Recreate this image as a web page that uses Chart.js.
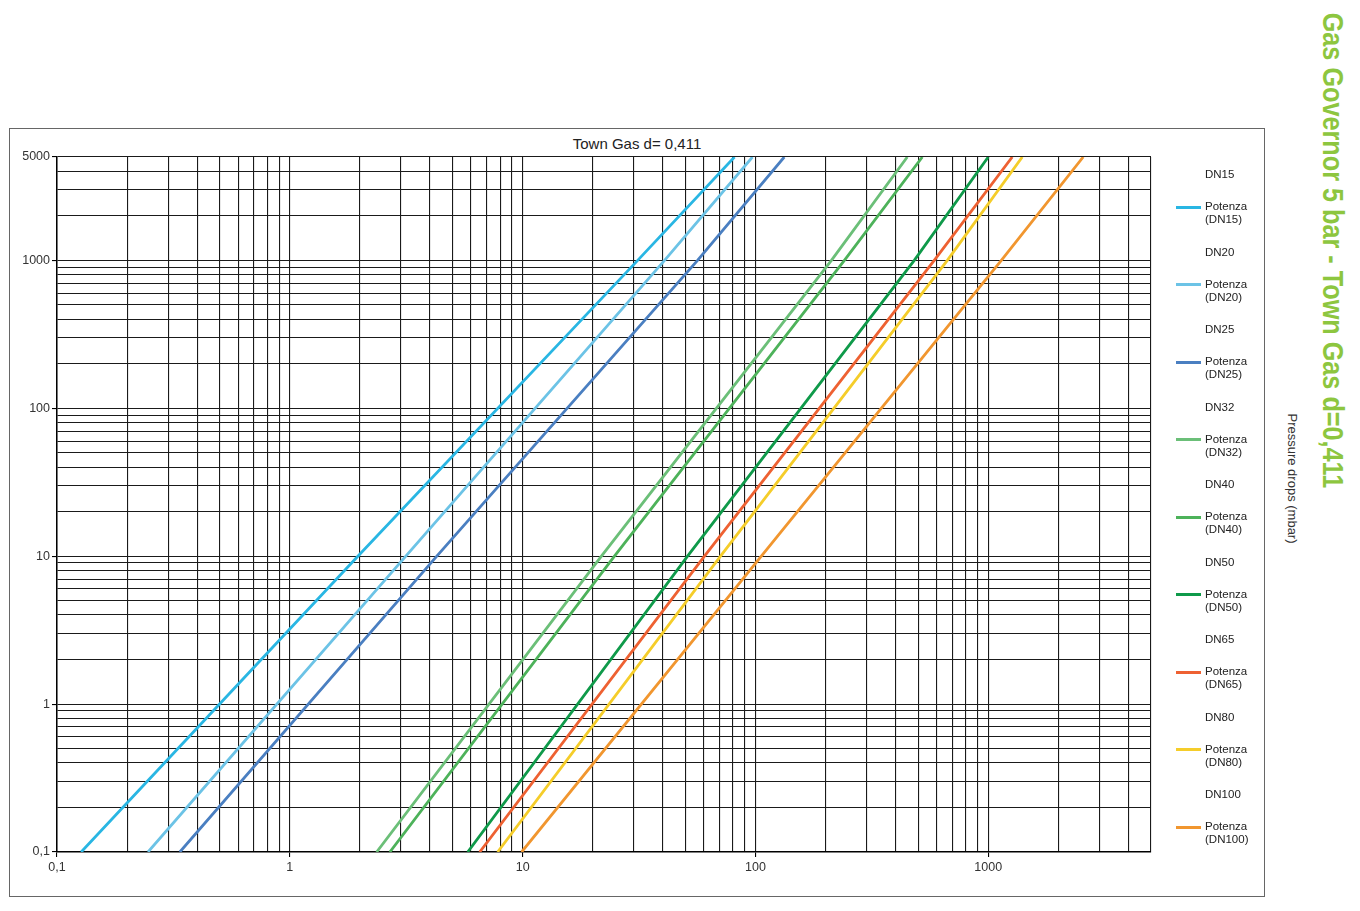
<!DOCTYPE html>
<html>
<head>
<meta charset="utf-8">
<script src="https://cdn.jsdelivr.net/npm/chart.js@4.4.1/dist/chart.umd.min.js"></script>
<style>
  html, body { margin: 0; padding: 0; background: #fff; }
  body { width: 1360px; height: 911px; position: relative; overflow: hidden; font-family: "Liberation Sans", Arial, sans-serif; }
  #frame { position: absolute; left: 9px; top: 128px; width: 1256px; height: 769px; box-sizing: border-box; border: 1.5px solid #666; }
  #chart { position: absolute; left: 9px; top: 128px; }
  .title { position: absolute; left: 9px; top: 135px; width: 1256px; text-align: center; font-size: 15px; color: #222; }
  .leg { position: absolute; font-size: 11.5px; line-height: 13px; color: #222; white-space: nowrap; }
  .sw { position: absolute; width: 25px; height: 3px; }
  .rot { position: absolute; white-space: nowrap; transform-origin: 50% 50%; }
  #side { font-weight: bold; font-size: 29px; color: #8dc63f; }
  #ytitle { font-size: 13px; color: #333; }
</style>
</head>
<body>
<div id="frame"></div>
<div class="title">Town Gas d= 0,411</div>
<canvas id="chart" width="1256" height="769"></canvas>
<div id="legend"></div>
<div id="side" class="rot">Gas Governor 5 bar - Town Gas d=0,411</div>
<div id="ytitle" class="rot">Pressure drops (mbar)</div>

<script>
const yLevels = [0.1, 10, 1000, 5000];

// flow values (x) of each curve at those levels
const dn15 = [0.127, 1.96, 31.2, 81.3];
const dn20 = [0.246, 3.15, 40.7, 97.1];
const dn25 = [0.337, 4.28, 56.4, 133];
const dn32 = [2.36, 21.8, 212, 449];
const dn40 = [2.69, 24.8, 241, 521];
const dn50 = [5.81, 51.1, 481, 1000];
const dn65 = [6.54, 60.4, 586, 1268];
const dn80 = [7.81, 70.8, 667, 1400];
const dn100 = [9.9, 106, 1138, 2558];

const seriesNames = ["DN15", "DN20", "DN25", "DN32", "DN40", "DN50", "DN65", "DN80", "DN100"];
const seriesValues = [dn15, dn20, dn25, dn32, dn40, dn50, dn65, dn80, dn100];
const seriesColors = ["#29b6e3", "#6cc3e6", "#4a7fc1", "#6bbf78", "#4db25a", "#0f9a4a", "#ee6132", "#f5cd2a", "#f1962f"];

// axis tick labels
const xTickValues = [0.1, 1, 10, 100, 1000];
const xTickText = ["0,1", "1", "10", "100", "1000"];
const yTickValues = [0.1, 1, 10, 100, 1000, 5000];
const yTickText = ["0,1", "1", "10", "100", "1000", "5000"];

const axisMin = 0.1;
const axisMax = 5000;

// every 1..9 x 10^k step between min and max, for the log grid
function logGrid(min, max) {
  const out = [];
  for (let k = -1; k <= 4; k++) {
    for (let m = 1; m <= 9; m++) {
      const v = parseFloat((m * Math.pow(10, k)).toPrecision(6));
      if (v >= min - 1e-9 && v <= max + 1e-9) out.push(v);
    }
  }
  return out;
}

function findLabel(values, texts, v) {
  for (let i = 0; i < values.length; i++) {
    if (Math.abs(values[i] - v) < values[i] * 1e-6) return texts[i];
  }
  return null;
}

const datasets = seriesNames.map((name, i) => ({
  label: "Potenza (" + name + ")",
  data: yLevels.map((y, j) => ({ x: seriesValues[i][j], y: y })),
  borderColor: seriesColors[i],
  backgroundColor: seriesColors[i],
  borderWidth: 2.8,
  showLine: true,
  pointRadius: 0,
  tension: 0
}));

function axis(labelValues, labelTexts, isX) {
  return {
    type: "logarithmic",
    min: axisMin,
    max: axisMax,
    afterBuildTicks: scale => {
      scale.ticks = logGrid(axisMin, axisMax).map(v => ({ value: v }));
    },
    afterFit: scale => {
      if (isX) scale.height = 45; else scale.width = 48;
    },
    border: { color: "#000", width: 1.5 },
    grid: {
      color: "#1a1a1a",
      lineWidth: 1.1,
      tickLength: 5,
      tickColor: ctx => (findLabel(labelValues, labelTexts, ctx.tick.value) !== null ? "#000" : "rgba(0,0,0,0)")
    },
    ticks: {
      autoSkip: false,
      maxRotation: 0,
      minRotation: 0,
      padding: isX ? 3 : 2,
      color: "#333",
      font: { family: "Liberation Sans", size: 12.5 },
      callback: v => {
        const t = findLabel(labelValues, labelTexts, v);
        return t === null ? "" : t;
      }
    }
  };
}

new Chart(document.getElementById("chart"), {
  type: "scatter",
  data: { datasets: datasets },
  options: {
    responsive: false,
    animation: false,
    layout: { padding: { left: 0, right: 114, top: 29, bottom: 0 } },
    plugins: {
      legend: { display: false },
      tooltip: { enabled: false },
      title: { display: false }
    },
    scales: {
      x: axis(xTickValues, xTickText, true),
      y: axis(yTickValues, yTickText, false)
    }
  }
});

// legend on the right: a text-only "DNxx" row and a "Potenza (DNxx)" row with a line sample
const legend = document.getElementById("legend");
seriesNames.forEach((name, i) => {
  const dnY = 175 + i * 77.5;
  const potY = 207 + i * 77.5;
  const a = document.createElement("div");
  a.className = "leg";
  a.style.left = "1205px";
  a.style.top = (dnY - 7) + "px";
  a.textContent = name;
  legend.appendChild(a);

  const sw = document.createElement("div");
  sw.className = "sw";
  sw.style.left = "1176px";
  sw.style.top = (potY - 1.5) + "px";
  sw.style.background = seriesColors[i];
  legend.appendChild(sw);

  const b = document.createElement("div");
  b.className = "leg";
  b.style.left = "1205px";
  b.style.top = (potY - 7) + "px";
  b.innerHTML = "Potenza<br>(" + name + ")";
  legend.appendChild(b);
});

// rotated side texts, squeezed to the length they have in the picture
function placeRotated(el, cx, cy, length) {
  const w = el.offsetWidth;
  const h = el.offsetHeight;
  const k = length / w;
  el.style.left = (cx - w / 2) + "px";
  el.style.top = (cy - h / 2) + "px";
  el.style.transform = "rotate(90deg) scaleX(" + k.toFixed(3) + ")";
}
placeRotated(document.getElementById("side"), 1332, 250, 476);
placeRotated(document.getElementById("ytitle"), 1292, 478, 130);
</script>
</body>
</html>
